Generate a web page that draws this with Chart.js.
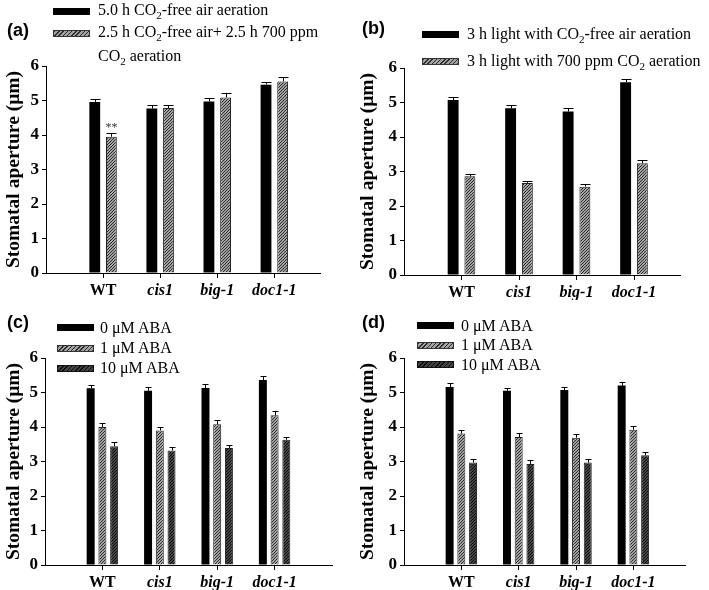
<!DOCTYPE html>
<html>
<head>
<meta charset="utf-8">
<script src="https://cdn.jsdelivr.net/npm/chart.js@4.4.1/dist/chart.umd.min.js"></script>
<style>
  body { margin: 0; background: #fff; }
  #wrap { position: relative; width: 709px; height: 590px; overflow: hidden; font-family: 'Liberation Serif', 'Times New Roman', serif; color: #000; }
  canvas { position: absolute; }
  .tag { position: absolute; font: bold 18px 'Liberation Sans', Arial, sans-serif; line-height: 18px; }
  .lg { position: absolute; font-size: 16px; line-height: 20px; white-space: nowrap; }
  .lg sub { font-size: 11px; vertical-align: -4px; line-height: 0; }
  .sw { position: absolute; width: 37px; height: 7px; box-sizing: border-box; }
  .black { background: #000; }
  .grey { background: repeating-linear-gradient(-45deg, #2e2e2e 0 1px, #a2a2a2 1px 3px); border: 1px solid #333; }
  .dark { background: repeating-linear-gradient(-45deg, #0e0e0e 0 1px, #444 1px 3px); border: 1px solid #111; }
</style>
</head>
<body>
<div id="wrap">
  <canvas id="pa" width="354" height="300" style="left:0;top:0"></canvas>
  <canvas id="pb" width="355" height="300" style="left:354px;top:0"></canvas>
  <canvas id="pc" width="354" height="300" style="left:0;top:290px"></canvas>
  <canvas id="pd" width="355" height="300" style="left:354px;top:290px"></canvas>

  <div class="tag" style="left:7px;top:21px">(a)</div>
  <div class="sw black" style="left:53px;top:8px"></div>
  <div class="lg" style="left:98px;top:0px">5.0 h CO<sub>2</sub>-free air aeration</div>
  <div class="sw grey" style="left:53px;top:30px"></div>
  <div class="lg" style="left:98px;top:22px">2.5 h CO<sub>2</sub>-free air+ 2.5 h 700 ppm</div>
  <div class="lg" style="left:98px;top:46px">CO<sub>2</sub> aeration</div>

  <div class="tag" style="left:362px;top:19px">(b)</div>
  <div class="sw black" style="left:422px;top:31px"></div>
  <div class="lg" style="left:467px;top:24px">3 h light with CO<sub>2</sub>-free air aeration</div>
  <div class="sw grey" style="left:422px;top:58px"></div>
  <div class="lg" style="left:467px;top:51px">3 h light with 700 ppm CO<sub>2</sub> aeration</div>

  <div class="tag" style="left:7px;top:313px">(c)</div>
  <div class="sw black" style="left:57px;top:324px"></div>
  <div class="lg" style="left:100px;top:318px">0 μM ABA</div>
  <div class="sw grey" style="left:57px;top:345px"></div>
  <div class="lg" style="left:100px;top:338px">1 μM ABA</div>
  <div class="sw dark" style="left:57px;top:365px"></div>
  <div class="lg" style="left:100px;top:358px">10 μM ABA</div>

  <div class="tag" style="left:362px;top:313px">(d)</div>
  <div class="sw black" style="left:417px;top:322px"></div>
  <div class="lg" style="left:461px;top:316px">0 μM ABA</div>
  <div class="sw grey" style="left:417px;top:342px"></div>
  <div class="lg" style="left:461px;top:335px">1 μM ABA</div>
  <div class="sw dark" style="left:417px;top:361px"></div>
  <div class="lg" style="left:461px;top:355px">10 μM ABA</div>
</div>
<script>
// genotypes on the x axis
const genotypes = ['WT', 'cis1', 'big-1', 'doc1-1'];
const yTickValues = [0, 1, 2, 3, 4, 5, 6];

// (a) 5.0 h CO2-free vs 2.5 h CO2-free + 2.5 h 700 ppm
const aFree = [4.96, 4.77, 4.97, 5.46];
const aFreeErr = [0.09, 0.10, 0.11, 0.09];
const aCO2 = [3.95, 4.78, 5.09, 5.55];
const aCO2Err = [0.10, 0.10, 0.12, 0.14];
const aCO2Marks = ['**', '', '', ''];

// (b) 3 h light, CO2-free vs 700 ppm
const bFree = [5.07, 4.83, 4.74, 5.59];
const bFreeErr = [0.09, 0.10, 0.10, 0.10];
const bCO2 = [2.86, 2.67, 2.56, 3.24];
const bCO2Err = [0.07, 0.06, 0.07, 0.08];

// (c) ABA
const c0 = [5.12, 5.05, 5.13, 5.36];
const c0Err = [0.11, 0.10, 0.12, 0.11];
const c1 = [4.00, 3.90, 4.08, 4.34];
const c1Err = [0.11, 0.10, 0.11, 0.11];
const c10 = [3.44, 3.32, 3.39, 3.63];
const c10Err = [0.12, 0.10, 0.10, 0.09];

// (d) ABA
const d0 = [5.16, 5.05, 5.07, 5.20];
const d0Err = [0.12, 0.09, 0.10, 0.10];
const d1 = [3.81, 3.71, 3.69, 3.92];
const d1Err = [0.09, 0.11, 0.10, 0.10];
const d10 = [2.97, 2.93, 2.97, 3.18];
const d10Err = [0.10, 0.10, 0.10, 0.10];

Chart.defaults.font.family = "'Liberation Serif', 'Times New Roman', serif";
Chart.defaults.color = '#000';

function hatch(bg, fg) {
    const c = document.createElement('canvas');
    c.width = c.height = 3;
    const g = c.getContext('2d');
    g.fillStyle = bg;
    g.fillRect(0, 0, 3, 3);
    g.strokeStyle = fg;
    g.lineWidth = 1;
    g.beginPath();
    g.moveTo(-1, 4); g.lineTo(4, -1);
    g.stroke();
    return g.createPattern(c, 'repeat');
}
const greyFill = hatch('#a2a2a2', '#2e2e2e');
const darkFill = hatch('#444444', '#0e0e0e');

// error bars + significance marks
const errorBars = {
    id: 'errorBars',
    afterDatasetsDraw(chart) {
        const ctx = chart.ctx;
        const y = chart.scales.y;
        chart.data.datasets.forEach((ds, di) => {
            const meta = chart.getDatasetMeta(di);
            meta.data.forEach((bar, i) => {
                const v = ds.data[i].y;
                const top = Math.round(y.getPixelForValue(v + ds.errors[i])) + 0.5;
                const x = Math.round(bar.x) + 0.5;
                const half = Math.round(bar.width * 0.42);
                ctx.save();
                ctx.strokeStyle = '#000';
                ctx.lineWidth = 1;
                ctx.beginPath();
                ctx.moveTo(x, bar.y);
                ctx.lineTo(x, top);
                ctx.moveTo(x - half, top);
                ctx.lineTo(x + half, top);
                ctx.stroke();
                if (ds.marks && ds.marks[i]) {
                    ctx.fillStyle = '#333';
                    ctx.font = "12px 'Liberation Serif'";
                    ctx.textAlign = 'center';
                    ctx.textBaseline = 'alphabetic';
                    ctx.fillText(ds.marks[i], bar.x, top - 3);
                }
                ctx.restore();
            });
        });
    }
};

function series(values, errors, fill, marks) {
    return {
        data: values.map((v, i) => ({ x: i + 1, y: v })),
        errors: errors,
        marks: marks,
        backgroundColor: fill,
        borderColor: fill === '#000' ? '#000' : '#222',
        borderWidth: fill === '#000' ? 0 : 1
    };
}

function panel(id, datasets, p) {
    new Chart(document.getElementById(id), {
        type: 'bar',
        data: { datasets: datasets },
        options: {
            responsive: false,
            animation: false,
            categoryPercentage: p.cat,
            barPercentage: p.bar,
            layout: { padding: { left: 0, right: p.right, top: p.top, bottom: 0 } },
            plugins: { legend: { display: false }, tooltip: { enabled: false } },
            scales: {
                x: {
                    type: 'linear',
                    offset: false,
                    min: 0,
                    max: p.xMax,
                    afterBuildTicks: s => { s.ticks = genotypes.map((g, i) => ({ value: i + 1 })); },
                    afterFit: s => { s.height = 300 - p.bottom; },
                    border: { color: '#000', width: 1 },
                    grid: { offset: false, drawOnChartArea: false, tickLength: 5, tickColor: '#000' },
                    ticks: {
                        color: '#000',
                        padding: 3,
                        maxRotation: 0,
                        autoSkip: false,
                        callback: v => genotypes[v - 1],
                        font: ctx => ({ size: 16, weight: 'bold', style: ctx.index === 0 ? 'normal' : 'italic' })
                    }
                },
                y: {
                    min: 0,
                    max: 6,
                    afterBuildTicks: s => { s.ticks = yTickValues.map(v => ({ value: v })); },
                    afterFit: s => { s.width = p.left; },
                    border: { color: '#000', width: 1 },
                    grid: { drawOnChartArea: false, tickLength: 4, tickColor: '#000' },
                    ticks: { color: '#000', padding: 3, font: { size: 17, weight: 'bold' } },
                    title: {
                        display: true,
                        text: 'Stomatal aperture (μm)',
                        color: '#000',
                        font: { size: 19.5, weight: 'bold' },
                        padding: { top: 2, bottom: 0 }
                    }
                }
            }
        },
        plugins: [errorBars]
    });
}

panel('pa', [
    series(aFree, aFreeErr, '#000'),
    series(aCO2, aCO2Err, greyFill, aCO2Marks)
], { left: 46, right: 34, top: 66, bottom: 273, xMax: 4.8, cat: 0.583, bar: 0.65 });

panel('pb', [
    series(bFree, bFreeErr, '#000'),
    series(bCO2, bCO2Err, greyFill)
], { left: 50, right: 29, top: 68, bottom: 275, xMax: 4.8, cat: 0.583, bar: 0.65 });

panel('pc', [
    series(c0, c0Err, '#000'),
    series(c1, c1Err, greyFill),
    series(c10, c10Err, darkFill)
], { left: 45, right: 22, top: 68, bottom: 275, xMax: 5.0, cat: 0.613, bar: 0.68 });

panel('pd', [
    series(d0, d0Err, '#000'),
    series(d1, d1Err, greyFill),
    series(d10, d10Err, darkFill)
], { left: 50, right: 24, top: 68, bottom: 275, xMax: 4.9, cat: 0.613, bar: 0.68 });
</script>
</body>
</html>
